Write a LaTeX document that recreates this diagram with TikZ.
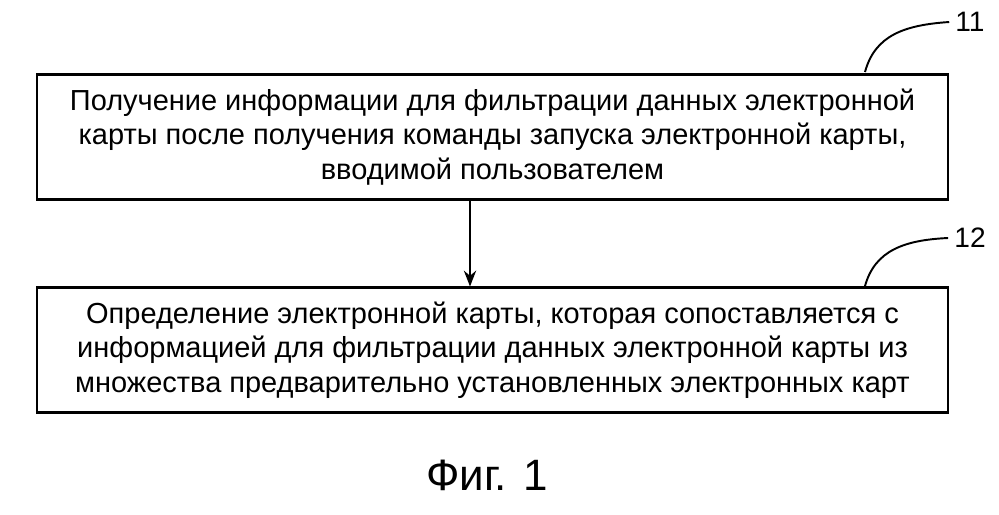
\documentclass[tikz,border=0pt]{standalone}
\usepackage{fontspec}
\setmainfont{Liberation Sans}
\usetikzlibrary{positioning,arrows.meta}
\tikzset{
  stepbox/.style={draw, line width=1.2pt, minimum width=18.22cm, minimum height=2.5cm,
    align=center, font=\fontsize{16.5}{19.5}\selectfont},
  leader/.style={line width=1.1pt},
}
\begin{document}
\begin{tikzpicture}[x=0.02cm,y=-0.02cm]
\useasboundingbox (0,0) rectangle (999,514);
\node[stepbox] (get) at (492.5,137) {Получение информации для фильтрации данных электронной\\карты после получения команды запуска электронной карты,\\вводимой пользователем};
\node[stepbox] (def) at (492.5,350) {Определение электронной карты, которая сопоставляется с\\информацией для фильтрации данных электронной карты из\\множества предварительно установленных электронных карт};
\draw[line width=1.1pt,-{Stealth[length=9pt,width=7pt]}] (get.south -| 470,0) -- (def.north -| 470,0);
\node[font=\fontsize{16}{19}\selectfont] (n11) at (970,22) {11};
\node[font=\fontsize{16}{19}\selectfont] (n12) at (970,238) {12};
\coordinate (a11) at (865,72);
\coordinate (a12) at (865,286);
\draw[leader] (a11) .. controls (875,35) and (905,25) .. (n11.west);
\draw[leader] (a12) .. controls (875,250) and (905,240) .. (n12.west);
\node[font=\fontsize{25}{30}\selectfont] (cap) at (487,475) {Фиг. 1};
\end{tikzpicture}
\end{document}
